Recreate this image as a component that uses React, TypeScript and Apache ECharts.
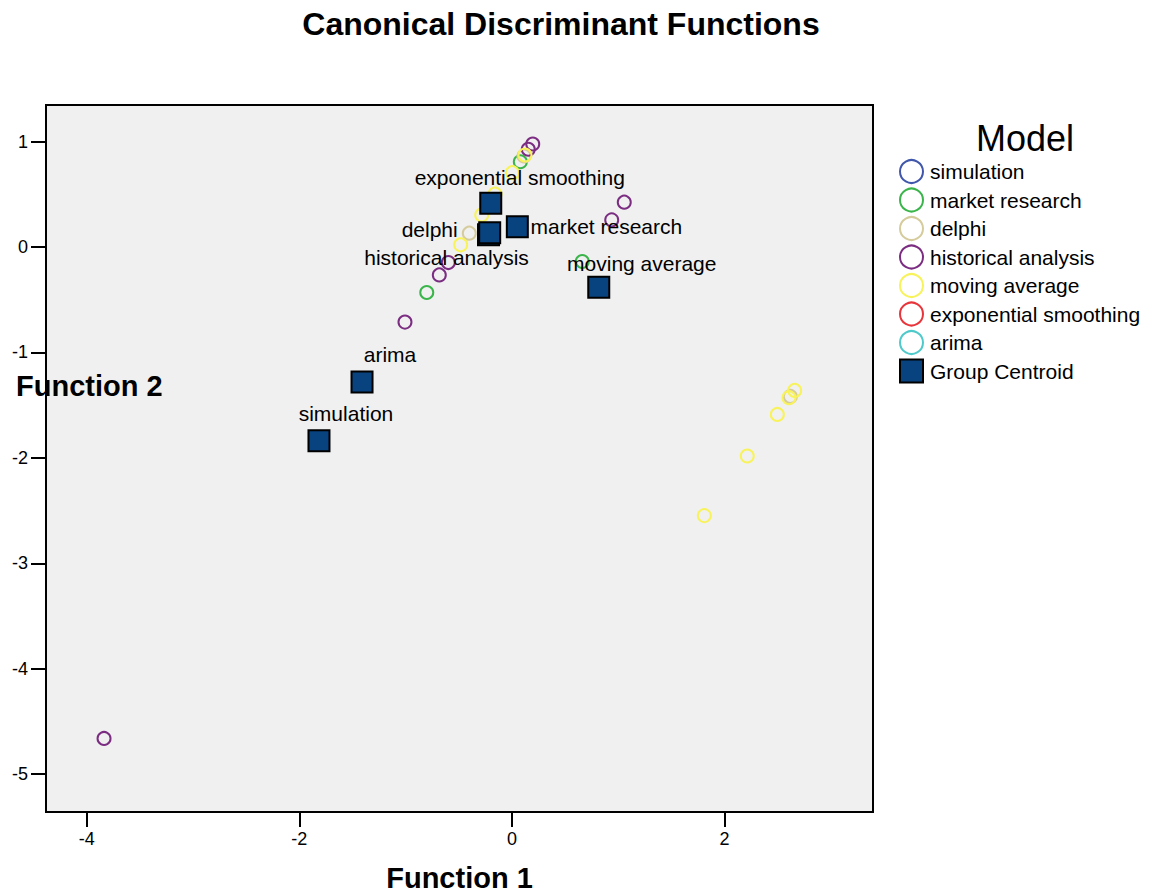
import React, { useEffect, useRef } from 'react';
import * as echarts from 'echarts';

// ---- Data ----
const groupNames = [
  'simulation',
  'market research',
  'delphi',
  'historical analysis',
  'moving average',
  'exponential smoothing',
  'arima',
];

const simulationPts: number[][] = [];
const marketResearchPts: number[][] = [
  [-0.801, -0.431],
  [0.079, 0.81],
  [0.662, -0.137],
];
const delphiPts: number[][] = [
  [-0.401, 0.132],
  [0.114, 0.864],
  [2.619, -1.417],
];
const historicalPts: number[][] = [
  [-3.837, -4.662],
  [-1.006, -0.712],
  [-0.683, -0.264],
  [-0.598, -0.147],
  [0.154, 0.928],
  [0.196, 0.978],
  [0.939, 0.258],
  [1.057, 0.426],
];
const movingAveragePts: number[][] = [
  [-0.482, 0.021],
  [-0.284, 0.305],
  [-0.159, 0.504],
  [0.004, 0.706],
  [0.123, 0.874],
  [1.81, -2.548],
  [2.214, -1.982],
  [2.497, -1.588],
  [2.607, -1.429],
  [2.66, -1.36],
];
const expSmoothingPts: number[][] = [];
const arimaPts: number[][] = [];

const groupPoints = [
  simulationPts,
  marketResearchPts,
  delphiPts,
  historicalPts,
  movingAveragePts,
  expSmoothingPts,
  arimaPts,
];

const centroidNames = [
  'simulation',
  'arima',
  'moving average',
  'market research',
  'historical analysis',
  'delphi',
  'exponential smoothing',
];
const centroidX = [-1.815, -1.41, 0.817, 0.051, -0.22, -0.209, -0.199];
const centroidY = [-1.837, -1.279, -0.38, 0.194, 0.116, 0.137, 0.416];

const xTicks = [-4, -2, 0, 2];
const yTicks = [-5, -4, -3, -2, -1, 0, 1];

// ---- Styles ----
const groupColors: Record<string, string> = {
  simulation: '#4057ab',
  'market research': '#3bb54b',
  delphi: '#d5cb9c',
  'historical analysis': '#7b2d82',
  'moving average': '#f8f35a',
  'exponential smoothing': '#e8353c',
  arima: '#4fcacb',
};
const labelOffsets: Record<string, number[]> = {
  simulation: [27, -27],
  arima: [28, -27],
  'moving average': [43, -24],
  'market research': [89, 0],
  'historical analysis': [-42, 23],
  delphi: [-60, -3],
  'exponential smoothing': [29, -26],
};

const FONT = 'Liberation Sans, Arial, sans-serif';

export default function App() {
  const ref = useRef<HTMLDivElement>(null);

  useEffect(() => {
    if (!ref.current) return;
    const chart = echarts.init(ref.current, undefined, { renderer: 'svg' });

    const groupSeries = groupNames.map((name, i) => ({
      type: 'scatter',
      name,
      data: groupPoints[i],
      symbol: 'circle',
      symbolSize: 13,
      itemStyle: {
        color: 'transparent',
        borderColor: groupColors[name],
        borderWidth: 2,
        opacity: 1,
      },
      z: 2,
    }));

    const centroidSeries = {
      type: 'scatter',
      name: 'Group Centroid',
      symbol: 'rect',
      symbolSize: 21,
      itemStyle: {
        color: '#08427f',
        borderColor: '#000',
        borderWidth: 2,
        opacity: 1,
      },
      z: 5,
      data: centroidNames.map((n, i) => ({
        name: n,
        value: [centroidX[i], centroidY[i]],
        label: {
          show: true,
          position: 'inside',
          offset: labelOffsets[n],
          formatter: n,
          color: '#000',
          fontSize: 21,
          fontFamily: FONT,
        },
      })),
    };

    const axisCommon = {
      type: 'value',
      axisLine: { show: true, onZero: false, lineStyle: { color: '#000', width: 2 } },
      splitLine: { show: false },
    };

    chart.setOption({
      animation: false,
      backgroundColor: '#fff',
      textStyle: { fontFamily: FONT },
      title: [
        {
          text: 'Canonical Discriminant Functions',
          left: 556,
          textAlign: 'center',
          top: 3,
          textStyle: { fontSize: 32, fontWeight: 'bold', color: '#000', fontFamily: FONT },
        },
        {
          text: 'Model',
          left: 1020,
          textAlign: 'center',
          top: 115,
          textStyle: { fontSize: 36, fontWeight: 'normal', color: '#000', fontFamily: FONT },
        },
      ],
      legend: {
        orient: 'vertical',
        left: 899,
        top: 159,
        padding: 0,
        itemWidth: 23,
        itemHeight: 23,
        itemGap: 3.5,
        data: [...groupNames, 'Group Centroid'],
        textStyle: { fontSize: 21, color: '#000', fontFamily: FONT, padding: [0, 0, 0, 2] },
        selectedMode: false,
      },
      grid: {
        left: 46,
        top: 105,
        width: 827,
        height: 707,
        show: true,
        backgroundColor: '#f0f0f0',
        borderColor: '#000',
        borderWidth: 2,
        containLabel: false,
        outerBoundsMode: 'none',
      },
      xAxis: {
        ...axisCommon,
        min: -4.383,
        max: 3.397,
        name: 'Function 1',
        nameLocation: 'middle',
        nameGap: 51,
        nameTextStyle: { fontSize: 29, fontWeight: 'bold', color: '#000', fontFamily: FONT },
        axisTick: {
          show: true,
          length: 15,
          customValues: xTicks,
          lineStyle: { color: '#000', width: 2 },
        },
        axisLabel: {
          customValues: xTicks,
          margin: 18,
          fontSize: 18,
          color: '#000',
          fontFamily: FONT,
        },
      },
      yAxis: {
        ...axisCommon,
        min: -5.36,
        max: 1.348,
        axisTick: {
          show: true,
          length: 15,
          customValues: yTicks,
          lineStyle: { color: '#000', width: 2 },
        },
        axisLabel: {
          customValues: yTicks,
          margin: 18,
          fontSize: 18,
          color: '#000',
          fontFamily: FONT,
        },
      },
      graphic: [
        {
          type: 'text',
          left: 16,
          top: 371,
          z: 1,
          style: {
            text: 'Function 2',
            fontSize: 29,
            fontWeight: 'bold',
            fill: '#000',
            fontFamily: FONT,
          },
        },
      ],
      series: [...groupSeries, centroidSeries],
    });

    return () => chart.dispose();
  }, []);

  return (
    <div
      ref={ref}
      style={{ position: 'fixed', left: 0, top: 0, width: 1158, height: 893, background: '#fff' }}
    />
  );
}
